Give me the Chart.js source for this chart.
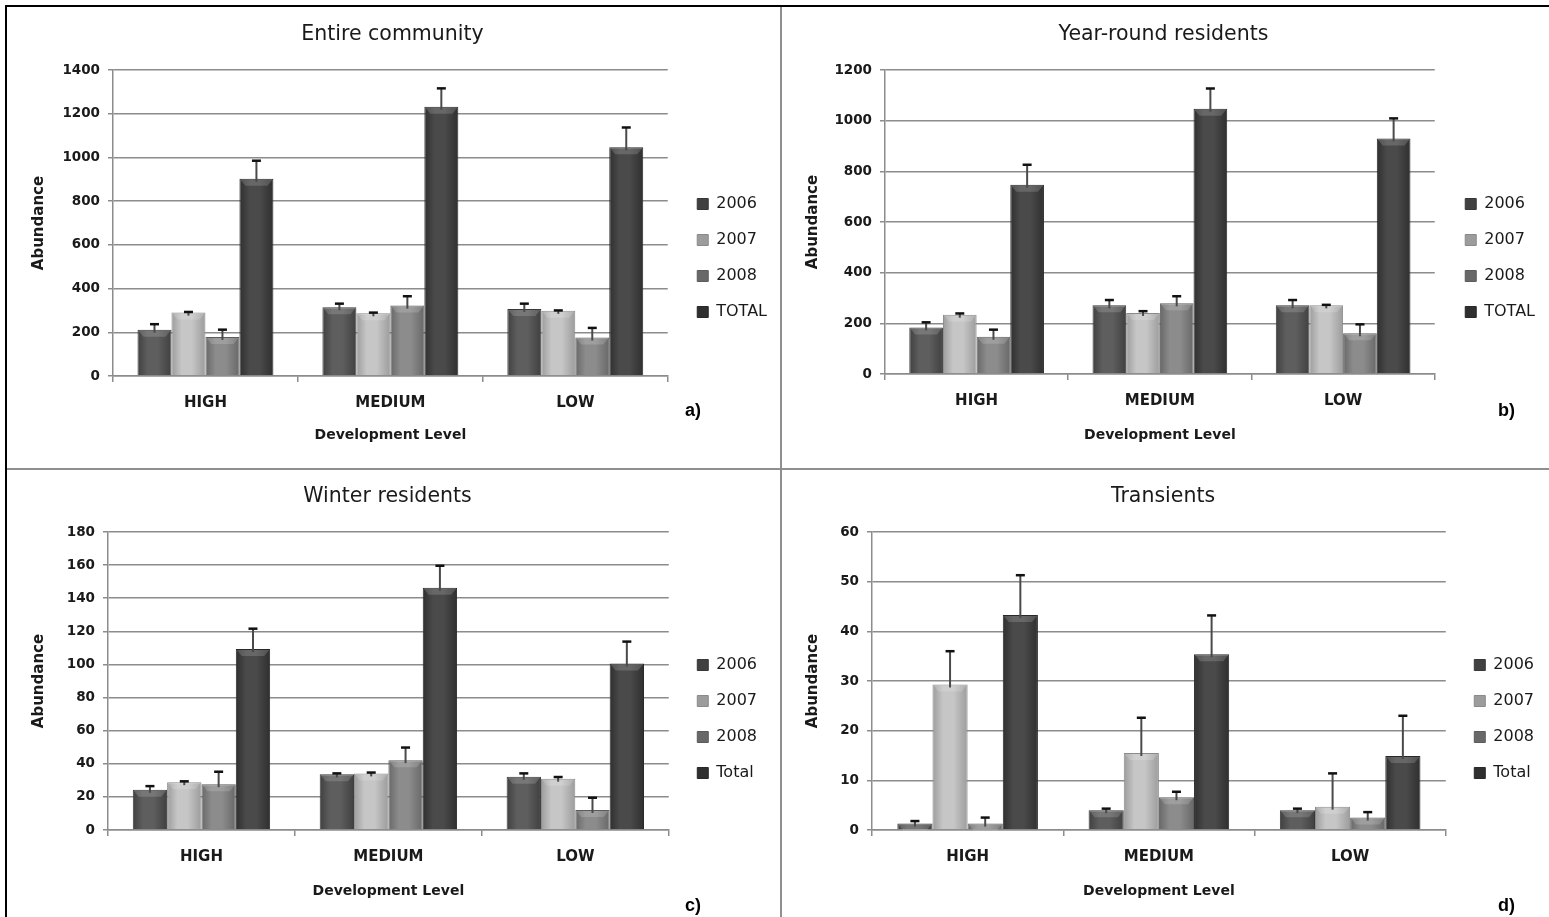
<!DOCTYPE html>
<html>
<head>
<meta charset="utf-8">
<script src="https://cdn.jsdelivr.net/npm/chart.js@4.4.1/dist/chart.umd.min.js"></script>
<style>
html, body { margin: 0; padding: 0; background: #fff; }
#fig { position: relative; width: 1549px; height: 917px; overflow: hidden; }
#fig canvas { position: absolute; }
.frame { position: absolute; background: #000; }
.split { position: absolute; background: #8f8f8f; }
.tag { position: absolute; font: bold 18px "Liberation Sans", Arial, sans-serif; color: #000; }
</style>
</head>
<body>
<div id="fig">
  <div class="frame" style="left:5px;top:5px;width:1544px;height:2px"></div>
  <div class="frame" style="left:5px;top:5px;width:2px;height:912px"></div>
  <div class="split" style="left:780px;top:7px;width:2px;height:910px"></div>
  <div class="split" style="left:7px;top:468px;width:1542px;height:2px"></div>
  <canvas id="chartA" width="772" height="461" style="left:8px;top:7px"></canvas>
  <canvas id="chartB" width="767" height="461" style="left:782px;top:7px"></canvas>
  <canvas id="chartC" width="772" height="447" style="left:8px;top:470px"></canvas>
  <canvas id="chartD" width="767" height="447" style="left:782px;top:470px"></canvas>
  <span class="tag" style="left:685px;top:400px">a)</span>
  <span class="tag" style="left:1498px;top:400px">b)</span>
  <span class="tag" style="left:685px;top:895px">c)</span>
  <span class="tag" style="left:1498px;top:895px">d)</span>
</div>
<script>
// categories and series names
const levels = ['HIGH', 'MEDIUM', 'LOW'];
const seriesUpper = ['2006', '2007', '2008', 'TOTAL'];
const seriesLower = ['2006', '2007', '2008', 'Total'];

// a) Entire community
const entire2006 = [212, 315, 307];
const entire2007 = [290, 287, 298];
const entire2008 = [179, 322, 176];
const entireTotal = [902, 1232, 1046];
const entire2006Err = [25, 16, 24];
const entire2007Err = [3, 3, 2];
const entire2008Err = [33, 43, 44];
const entireTotalErr = [83, 84, 91];

// b) Year-round residents
const year2006 = [184, 271, 271];
const year2007 = [234, 241, 271];
const year2008 = [147, 279, 161];
const yearTotal = [747, 1047, 930];
const year2006Err = [20, 21, 21];
const year2007Err = [5, 7, 2];
const year2008Err = [28, 28, 35];
const yearTotalErr = [79, 80, 79];

// c) Winter residents
const winter2006 = [24.3, 33.6, 32.2];
const winter2007 = [28.9, 34.2, 31];
const winter2008 = [27.7, 42.2, 12.1];
const winterTotal = [109.3, 146.3, 100.5];
const winter2006Err = [2.2, 0.6, 2];
const winter2007Err = [0.5, 0.5, 1];
const winter2008Err = [7.5, 7.6, 7.4];
const winterTotalErr = [12.3, 13.3, 13.3];

// d) Transients
const trans2006 = [1.3, 4.0, 4.0];
const trans2007 = [29.3, 15.5, 4.7];
const trans2008 = [1.3, 6.6, 2.5];
const transTotal = [43.3, 35.4, 14.9];
const trans2006Err = [0.5, 0.3, 0.3];
const trans2007Err = [6.7, 7.1, 6.7];
const trans2008Err = [1.2, 1.1, 1.1];
const transTotalErr = [8.0, 7.8, 8.1];

Chart.defaults.font.family = '"DejaVu Sans", Verdana, sans-serif';
Chart.defaults.color = '#1a1a1a';
Chart.defaults.animation = false;

const barColors = [
    { base: '#5e5e5e', edge: '#404040', line: '#383838' },
    { base: '#c6c6c6', edge: '#9c9c9c', line: '#8a8a8a' },
    { base: '#8c8c8c', edge: '#686868', line: '#5c5c5c' },
    { base: '#4a4a4a', edge: '#2f2f2f', line: '#282828' }
];
const gridColor = '#8c8c8c';

function barFill(c) {
    return function (ctx) {
        const el = ctx.element;
        if (!el || !el.width || isNaN(el.x))
            return c.base;
        const g = ctx.chart.ctx.createLinearGradient(el.x - el.width / 2, 0, el.x + el.width / 2, 0);
        g.addColorStop(0, c.edge);
        g.addColorStop(0.3, c.base);
        g.addColorStop(0.6, c.base);
        g.addColorStop(1, c.edge);
        return g;
    };
}

// bevel on top of each bar and the + error bars
const errorBars = {
    id: 'errorBars',
    afterDatasetsDraw(chart) {
        const c = chart.ctx;
        const yScale = chart.scales.y;
        chart.data.datasets.forEach(function (ds, i) {
            const meta = chart.getDatasetMeta(i);
            meta.data.forEach(function (bar, j) {
                const half = bar.width / 2;
                c.save();
                c.fillStyle = 'rgba(255,255,255,0.16)';
                c.beginPath();
                c.moveTo(bar.x - half + 1, bar.y + 1);
                c.lineTo(bar.x + half - 1, bar.y + 1);
                c.lineTo(bar.x + half - 6, bar.y + 7);
                c.lineTo(bar.x - half + 6, bar.y + 7);
                c.closePath();
                c.fill();

                const top = yScale.getPixelForValue(ds.data[j] + ds.errorBars[j]);
                c.strokeStyle = '#4a4a4a';
                c.lineWidth = 2;
                c.beginPath();
                c.moveTo(bar.x, bar.y + 3);
                c.lineTo(bar.x, top);
                c.stroke();
                c.strokeStyle = '#111';
                c.lineWidth = 2.5;
                c.beginPath();
                c.moveTo(bar.x - 4.5, top);
                c.lineTo(bar.x + 4.5, top);
                c.stroke();
                c.restore();
            });
        });
    }
};

function makePanel(id, title, names, values, errors, yMax, yStep, g) {
    const datasets = names.map(function (name, i) {
        return {
            label: name,
            data: values[i],
            errorBars: errors[i],
            backgroundColor: barFill(barColors[i]),
            borderColor: barColors[i].line,
            borderWidth: 1,
            categoryPercentage: 0.735,
            barPercentage: 1.0
        };
    });

    const chart = new Chart(document.getElementById(id), {
        type: 'bar',
        data: { labels: levels, datasets: datasets },
        plugins: [errorBars],
        options: {
            responsive: false,
            devicePixelRatio: 1,
            layout: { padding: { left: 0, top: 0, bottom: 0, right: g.padR } },
            plugins: {
                tooltip: { enabled: false },
                title: {
                    display: true,
                    text: title,
                    color: '#1a1a1a',
                    font: { size: 20.5, weight: 'normal' },
                    padding: { top: g.titleCenter - 12.3, bottom: g.chartTop - g.titleCenter - 12.3 }
                },
                legend: {
                    position: 'right',
                    align: 'start',
                    title: { display: true, text: '', font: { size: 12 }, padding: { top: g.legendFirst - 42.4, bottom: 0 } },
                    labels: {
                        boxWidth: 11,
                        boxHeight: 11,
                        padding: 20,
                        color: '#1a1a1a',
                        font: { size: 16 }
                    }
                }
            },
            scales: {
                x: {
                    grid: { display: true, drawOnChartArea: false, drawTicks: true, tickLength: 6, color: gridColor, lineWidth: 1.5, offset: true },
                    border: { display: true, color: gridColor, width: 1.5 },
                    ticks: { padding: 12, color: '#1a1a1a', font: { size: 15, weight: 'bold' } },
                    title: { display: true, text: 'Development Level', color: '#1a1a1a', font: { size: 14, weight: 'bold' }, padding: { top: 0, bottom: g.xTitleFromBottom - 9.4 } },
                    afterFit: function (s) { s.height = g.H - g.chartBottom; }
                },
                y: {
                    min: 0,
                    max: yMax,
                    ticks: { stepSize: yStep, padding: 8, color: '#1a1a1a', font: { size: 13.5, weight: 'bold' }, callback: function (v) { return String(v); } },
                    grid: { color: gridColor, lineWidth: 1.5, tickLength: 5, drawTicks: true },
                    border: { display: true, color: gridColor, width: 1.5 },
                    title: { display: true, text: 'Abundance', color: '#1a1a1a', font: { size: 15, weight: 'bold' }, padding: { top: 22, bottom: 0 } },
                    afterFit: function (s) { s.width = g.chartLeft; }
                },
                gap: {
                    type: 'linear',
                    position: 'right',
                    display: true,
                    grid: { display: false, drawTicks: false },
                    border: { display: false },
                    ticks: { display: false },
                    afterFit: function (s) { s.width = g.gap; }
                }
            }
        }
    });
    chart.update();
    return chart;
}

makePanel('chartA', 'Entire community', seriesUpper,
    [entire2006, entire2007, entire2008, entireTotal],
    [entire2006Err, entire2007Err, entire2008Err, entireTotalErr], 1400, 200,
    { H: 461, chartLeft: 105, chartTop: 63, chartBottom: 369, titleCenter: 28, legendFirst: 197, padR: 3, gap: 9.5, xTitleFromBottom: 34 });

makePanel('chartB', 'Year-round residents', seriesUpper,
    [year2006, year2007, year2008, yearTotal],
    [year2006Err, year2007Err, year2008Err, yearTotalErr], 1200, 200,
    { H: 461, chartLeft: 103, chartTop: 63, chartBottom: 367, titleCenter: 28, legendFirst: 197, padR: 4, gap: 10.5, xTitleFromBottom: 34 });

makePanel('chartC', 'Winter residents', seriesLower,
    [winter2006, winter2007, winter2008, winterTotal],
    [winter2006Err, winter2007Err, winter2008Err, winterTotalErr], 180, 20,
    { H: 447, chartLeft: 100, chartTop: 62, chartBottom: 360, titleCenter: 27, legendFirst: 195, padR: 13, gap: 8.5, xTitleFromBottom: 27 });

makePanel('chartD', 'Transients', seriesLower,
    [trans2006, trans2007, trans2008, transTotal],
    [trans2006Err, trans2007Err, trans2008Err, transTotalErr], 60, 10,
    { H: 447, chartLeft: 90, chartTop: 62, chartBottom: 360, titleCenter: 27, legendFirst: 195, padR: 5, gap: 8.5, xTitleFromBottom: 27 });
</script>
</body>
</html>
